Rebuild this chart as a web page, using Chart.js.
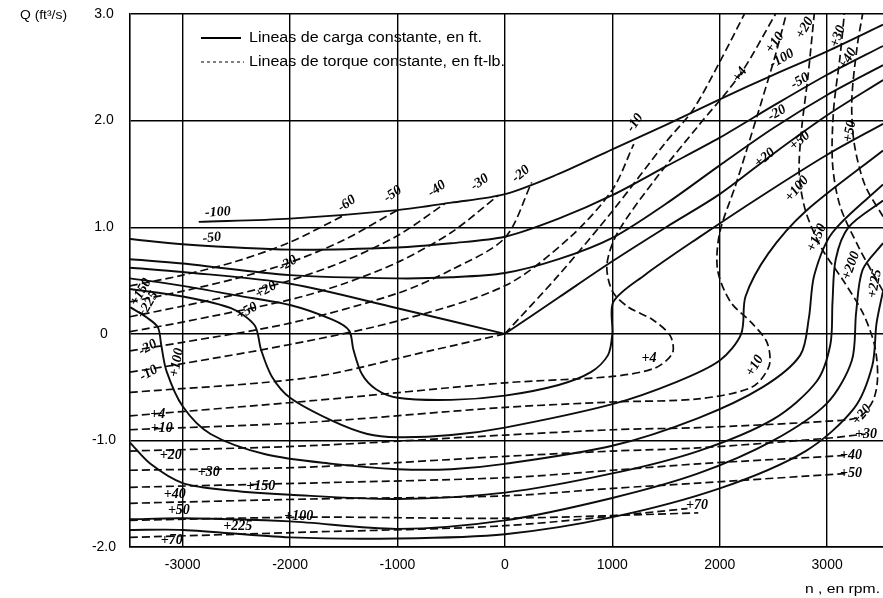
<!DOCTYPE html>
<html>
<head>
<meta charset="utf-8">
<script src="https://cdn.jsdelivr.net/npm/chart.js@4/dist/chart.umd.min.js"></script>
<style>
  html, body { margin: 0; padding: 0; background: #fff; }
  #wrap { width: 883px; height: 598px; position: relative; }
</style>
</head>
<body>
<div id="wrap"><canvas id="c" width="883" height="598"></canvas></div>
<script>
// Axis ticks
const xTicks = [-3000, -2000, -1000, 0, 1000, 2000, 3000];
const yTicks = [-2, -1, 0, 1, 2, 3];

// Constant-head lines (ft): [n (rpm), Q (ft3/s)]
const headM100 = [[-2850,1.05],[-2000,1.08],[-1000,1.16],[-500,1.23],[0,1.31],[500,1.5],[1000,1.73],[1500,1.96],[2000,2.2],[2500,2.43],[3000,2.65],[3520,2.9]];
const headM50 = [[-3490,0.89],[-3000,0.84],[-2000,0.79],[-1000,0.81],[-500,0.85],[0,0.91],[500,1.08],[1000,1.3],[1500,1.57],[2000,1.84],[2500,2.14],[3000,2.43],[3520,2.7]];
const headM20 = [[-3490,0.7],[-3000,0.66],[-2000,0.55],[-1000,0.52],[-500,0.53],[0,0.57],[500,0.7],[1000,0.9],[1500,1.22],[2000,1.58],[2500,1.93],[3000,2.24],[3520,2.52]];
const headZeroL = [[-3490,0.62],[-3000,0.58],[-2000,0.47],[-1000,0.24],[0,0]];
const headZeroR = [[0,0],[500,0.34],[1000,0.68],[1500,1.0],[2000,1.31],[2500,1.69],[3000,2.05],[3520,2.38]];
const headP20 = [[-3490,0.52],[-3000,0.45],[-2500,0.36],[-2000,0.27],[-1600,0.13],[-1450,0.03],[-1410,-0.15],[-1330,-0.38],[-1200,-0.52],[-1000,-0.6],[-500,-0.62],[0,-0.58],[500,-0.48],[800,-0.36],[960,-0.2],[1000,0.0],[1010,0.3],[1300,0.55],[1800,0.9],[2400,1.3],[3000,1.68],[3520,1.97]];
const headP50 = [[-3490,0.42],[-3000,0.35],[-2550,0.24],[-2330,0.08],[-2270,-0.15],[-2170,-0.4],[-2000,-0.6],[-1600,-0.82],[-1280,-0.94],[-1000,-0.97],[-500,-0.95],[0,-0.88],[1000,-0.66],[1600,-0.45],[2000,-0.25],[2200,0.0],[2240,0.35],[2450,0.75],[2800,1.15],[3520,1.72]];
const headP100 = [[-3490,0.25],[-3330,0.15],[-3230,0.06],[-3200,-0.1],[-3150,-0.35],[-3000,-0.68],[-2740,-0.94],[-2230,-1.13],[-1600,-1.22],[-1000,-1.27],[-500,-1.27],[0,-1.22],[1000,-1.05],[1800,-0.79],[2400,-0.5],[2750,-0.2],[2830,0.15],[2880,0.55],[3050,0.95],[3520,1.4]];
const headP150 = [[-3490,-1.02],[-3300,-1.22],[-3000,-1.4],[-2550,-1.47],[-2000,-1.51],[-1000,-1.55],[0,-1.49],[1000,-1.31],[1800,-1.1],[2500,-0.8],[2900,-0.45],[3030,-0.1],[3050,0.3],[3080,0.7],[3200,1.0],[3520,1.25]];
const headP200 = [[-3490,-1.74],[-3000,-1.73],[-2000,-1.76],[-1000,-1.83],[0,-1.75],[1000,-1.54],[1800,-1.31],[2500,-1.0],[3000,-0.65],[3230,-0.25],[3270,0.2],[3330,0.6],[3520,0.85]];
const headP225 = [[-3490,-1.84],[-3000,-1.84],[-2000,-1.91],[-1000,-1.92],[0,-1.88],[1000,-1.72],[2000,-1.45],[2800,-1.1],[3250,-0.7],[3420,-0.3],[3460,0.1],[3520,0.4]];

// Constant-torque lines (ft-lb)
const torqueM60 = [[-3490,0.45],[-3000,0.55],[-2500,0.68],[-2000,0.86],[-1480,1.12]];
const torqueM50 = [[-3490,0.3],[-3000,0.4],[-2500,0.52],[-2000,0.67],[-1500,0.88],[-1000,1.16]];
const torqueM40 = [[-3490,0.16],[-3000,0.26],[-2500,0.37],[-2000,0.5],[-1500,0.68],[-1000,0.92],[-560,1.22]];
const torqueM30 = [[-3490,0.02],[-3000,0.11],[-2000,0.32],[-1500,0.47],[-1000,0.67],[-500,0.95],[-60,1.3]];
const torqueM20 = [[-3490,-0.16],[-3000,-0.08],[-2000,0.1],[-1000,0.38],[-500,0.6],[0,0.9],[250,1.42]];
const torqueM10 = [[-3490,-0.36],[-3000,-0.28],[-2000,-0.1],[-1000,0.12],[0,0.45],[600,0.9],[1000,1.35],[1200,1.78]];
const torqueZeroL = [[-3490,-0.55],[-1820,-0.41],[-700,-0.16],[0,0]];
const torqueZeroR = [[0,0],[500,0.55],[1000,1.15],[1500,1.8],[1750,2.1],[2000,2.55],[2230,3.0]];
const torqueP4 = [[-3490,-0.77],[-1820,-0.63],[0,-0.46],[1000,-0.4],[1400,-0.32],[1560,-0.18],[1540,-0.02],[1380,0.13],[1150,0.25],[1000,0.4],[950,0.65],[1050,0.95],[1400,1.45],[1800,1.95],[2188,2.43],[2520,3.0]];
const torqueP10 = [[-3490,-0.9],[-1820,-0.83],[0,-0.69],[1000,-0.64],[1800,-0.61],[2300,-0.5],[2460,-0.3],[2440,-0.08],[2300,0.1],[2100,0.3],[1980,0.6],[2000,0.95],[2150,1.4],[2350,2.05],[2514,2.6],[2620,3.0]];
const torqueP20 = [[-3490,-1.1],[-1820,-1.05],[0,-0.95],[1000,-0.9],[1800,-0.88],[3000,-0.82],[3300,-0.78],[3430,-0.62],[3470,-0.4],[3440,-0.1],[3330,0.2],[3150,0.5],[2950,0.8],[2800,1.15],[2740,1.5],[2760,1.9],[2820,2.4],[2880,3.0]];
const torqueP30 = [[-3490,-1.28],[-1820,-1.25],[0,-1.15],[1000,-1.1],[1800,-1.07],[3000,-0.98],[3360,-0.94]];
const torqueP40 = [[-3490,-1.44],[-1820,-1.4],[0,-1.35],[1000,-1.28],[1800,-1.22],[3200,-1.14]];
const torqueP50 = [[-3490,-1.59],[-1820,-1.55],[0,-1.52],[1000,-1.45],[1800,-1.4],[3200,-1.31]];
const torqueP60 = [[-3490,-1.75],[-1820,-1.72],[0,-1.73],[1800,-1.68]];
const torqueP70 = [[-3490,-1.91],[-1820,-1.86],[0,-1.8],[1700,-1.64]];
const torqueUp30 = [[3520,0.4],[3300,0.8],[3120,1.2],[3050,1.6],[3060,2.1],[3120,2.6],[3160,3.0]];
const torqueUp40 = [[3520,1.1],[3350,1.4],[3250,1.8],[3230,2.2],[3280,2.7],[3330,3.0]];

const headLines = [headM100, headM50, headM20, headZeroL, headZeroR, headP20, headP50, headP100, headP150, headP200, headP225];
const torqueLines = [torqueM60, torqueM50, torqueM40, torqueM30, torqueM20, torqueM10, torqueZeroL, torqueZeroR,
  torqueP4, torqueP10, torqueP20, torqueP30, torqueP40, torqueP50, torqueP60, torqueP70,
  torqueUp30, torqueUp40];

// Curve annotations: [text, n, Q, rotation in degrees]
const curveLabels = [
  ['-100', -2672, 1.14, -4], ['-50', -2728, 0.90, -6],
  ['-60', -1471, 1.22, -35], ['-50', -1043, 1.31, -35], ['-40', -633, 1.36, -35],
  ['-30', -233, 1.42, -35], ['-20', 149, 1.50, -40], ['-10', 1210, 1.98, -55],
  ['-20', -2020, 0.66, -30], ['+20', -2225, 0.41, -30], ['+50', -2402, 0.21, -30],
  ['+150', -3389, 0.39, -60], ['+225', -3324, 0.27, -60],
  ['-20', -3324, -0.13, -30], ['-10', -3315, -0.37, -30], ['+100', -3054, -0.27, -80],
  ['+4', -3231, -0.76, 0], ['+10', -3194, -0.89, 0], ['+20', -3110, -1.14, 0],
  ['+30', -2756, -1.30, 0], ['+150', -2272, -1.43, 0], ['+40', -3073, -1.51, 0],
  ['+50', -3035, -1.66, 0], ['+100', -1918, -1.71, 0], ['+225', -2486, -1.81, 0], ['+70', -3101, -1.94, 0],
  ['+4', 1341, -0.23, 0], ['+10', 2328, -0.30, -60], ['+70', 1788, -1.61, 0],
  ['+20', 3324, -0.76, -50], ['+30', 3361, -0.94, 0], ['+40', 3222, -1.14, 0], ['+50', 3222, -1.31, 0],
  ['+4', 2188, 2.43, -55], ['+10', 2514, 2.73, -55], ['+20', 2793, 2.87, -60], ['+30', 3101, 2.79, -70], ['+40', 3194, 2.58, -60],
  ['-100', 2579, 2.58, -30], ['-50', 2747, 2.37, -30], ['-20', 2533, 2.07, -30],
  ['+20', 2421, 1.65, -40], ['+50', 2747, 1.81, -40], ['+100', 2719, 1.36, -50], ['+50', 3212, 1.90, -80],
  ['+150', 2905, 0.90, -65], ['+200', 3222, 0.64, -70], ['+225', 3445, 0.47, -80]
];

const toPts = a => a.map(p => ({ x: p[0], y: p[1] }));

const datasets = [
  ...headLines.map(a => ({
    data: toPts(a), showLine: true, pointRadius: 0, borderColor: '#0d0d0d',
    borderWidth: 1.9, tension: 0.3, fill: false
  })),
  ...torqueLines.map(a => ({
    data: toPts(a), showLine: true, pointRadius: 0, borderColor: '#0d0d0d',
    borderWidth: 1.7, borderDash: [8, 4], tension: 0.3, fill: false
  }))
];

// text drawn to a given width (the printed lettering is wide)
function wideText(ctx, t, x, y, w) {
  const m = ctx.measureText(t).width;
  ctx.save();
  ctx.translate(x, y);
  ctx.scale(w / m, 1);
  ctx.fillText(t, 0, 0);
  ctx.restore();
}

const annotations = {
  id: 'annotations',
  afterDatasetsDraw(chart) {
    const { ctx, scales: { x, y } } = chart;
    ctx.save();
    ctx.fillStyle = '#000';
    ctx.textBaseline = 'middle';
    // curve values
    ctx.font = 'italic bold 14px "Liberation Serif", serif';
    ctx.textAlign = 'center';
    curveLabels.forEach(([t, n, q, rot]) => {
      ctx.save();
      ctx.translate(x.getPixelForValue(n), y.getPixelForValue(q));
      ctx.rotate(rot * Math.PI / 180);
      ctx.fillText(t, 0, 0);
      ctx.restore();
    });
    // axis titles
    ctx.textAlign = 'left';
    ctx.font = '12px "Liberation Sans", Arial, sans-serif';
    wideText(ctx, 'Q (ft\u00B3/s)', 20, 16, 47);
    wideText(ctx, 'n , en rpm.', 805, 590, 75);
    // legend
    ctx.strokeStyle = '#000';
    ctx.lineWidth = 2;
    ctx.setLineDash([]);
    ctx.beginPath(); ctx.moveTo(201, 38); ctx.lineTo(241, 38); ctx.stroke();
    ctx.lineWidth = 1.2;
    ctx.setLineDash([3, 3]);
    ctx.beginPath(); ctx.moveTo(201, 62); ctx.lineTo(244, 62); ctx.stroke();
    ctx.setLineDash([]);
    ctx.font = '14px "Liberation Sans", Arial, sans-serif';
    wideText(ctx, 'Lineas de carga constante, en ft.', 249, 38, 233);
    wideText(ctx, 'Lineas de torque constante, en ft-lb.', 249, 62, 256);
    ctx.restore();
  }
};

new Chart(document.getElementById('c'), {
  type: 'scatter',
  data: { datasets },
  options: {
    responsive: false,
    animation: false,
    devicePixelRatio: 1,
    layout: { padding: { top: 14, right: 0, bottom: 0, left: 0 } },
    plugins: { legend: { display: false }, tooltip: { enabled: false } },
    scales: {
      x: {
        type: 'linear', min: -3490, max: 3520,
        afterBuildTicks: s => { s.ticks = xTicks.map(v => ({ value: v })); },
        afterFit: s => { s.height = 51; },
        ticks: {
          color: '#000', font: { family: '"Liberation Sans", Arial, sans-serif', size: 14 },
          padding: 10, maxRotation: 0, autoSkip: false,
          callback: v => String(v)
        },
        grid: { color: '#000', lineWidth: 1.4, drawTicks: false },
        border: { color: '#000', width: 1.6 }
      },
      y: {
        type: 'linear', min: -2, max: 3,
        afterBuildTicks: s => { s.ticks = yTicks.map(v => ({ value: v })); },
        afterFit: s => { s.width = 130; },
        ticks: {
          color: '#000', font: { family: '"Liberation Sans", Arial, sans-serif', size: 14 },
          crossAlign: 'center', padding: 0,
          callback: v => (v === 0 ? '0' : v.toFixed(1))
        },
        grid: { color: '#000', lineWidth: 1.4, drawTicks: true, tickLength: 14, tickColor: 'rgba(0,0,0,0)' },
        border: { color: '#000', width: 1.6 }
      }
    }
  },
  plugins: [annotations]
});
</script>
</body>
</html>
